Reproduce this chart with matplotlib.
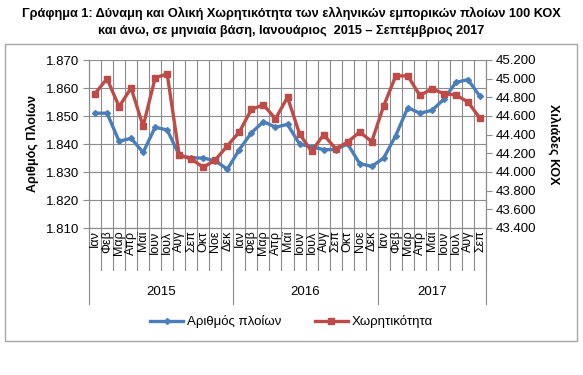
import matplotlib
matplotlib.use("Agg")
import matplotlib.pyplot as plt
from matplotlib.lines import Line2D
from matplotlib.patches import Rectangle
from matplotlib.ticker import FuncFormatter, MultipleLocator

plt.rcParams['font.family'] = ['Liberation Sans', 'DejaVu Sans']

# ---- data ----
MONTHS = ["Ιαν", "Φεβ", "Μαρ", "Απρ", "Μαϊ", "Ιουν", "Ιουλ", "Αυγ", "Σεπ", "Οκτ", "Νοε", "Δεκ"]
YEARS = ["2015", "2016", "2017"]
MONTHS_PER_YEAR = [12, 12, 9]

ships = [1851, 1851, 1841, 1842, 1837, 1846, 1845, 1836, 1835, 1835, 1834, 1831,
         1838, 1844, 1848, 1846, 1847, 1840, 1839, 1838, 1838, 1840, 1833, 1832,
         1835, 1843, 1853, 1851, 1852, 1856, 1862, 1863, 1857]
tonnage = [44840, 45000, 44700, 44900, 44490, 45010, 45050, 44180, 44140, 44050, 44130, 44280,
           44430, 44670, 44720, 44570, 44800, 44410, 44220, 44400, 44250, 44320, 44430, 44325,
           44710, 45030, 45030, 44820, 44890, 44840, 44825, 44750, 44575]

BLUE = "#4a7ebb"
RED = "#be4b48"
GRID = "#8c8c8c"

month_labels = []
for n in MONTHS_PER_YEAR:
    month_labels += MONTHS[:n]
x = list(range(len(month_labels)))


def greek_thousands(v, pos):
    return f"{v:,.0f}".replace(",", ".")


fig = plt.figure(figsize=(5.83, 3.75), dpi=100)
ax = fig.add_axes([89 / 583, 1 - 228 / 375, (486 - 89) / 583, (228 - 60) / 375])
ax2 = ax.twinx()

# frame round the chart
fig.patches.append(Rectangle((5 / 583, 1 - 341 / 375), 572 / 583, 297 / 375,
                             transform=fig.transFigure, fill=False,
                             edgecolor="#a6a6a6", linewidth=1.0))

fig.text(0.5, 1 - 13 / 375, "Γράφημα 1: Δύναμη και Ολική Χωρητικότητα των ελληνικών εμπορικών πλοίων 100 ΚΟΧ",
         ha="center", va="center", fontsize=9.2, fontweight="bold")
fig.text(0.5, 1 - 31 / 375, "και άνω, σε μηνιαία βάση, Ιανουάριος  2015 – Σεπτέμβριος 2017",
         ha="center", va="center", fontsize=9.2, fontweight="bold")

ax.plot(x, ships, color=BLUE, lw=2.4, marker="D", ms=3, zorder=3)
ax2.plot(x, tonnage, color=RED, lw=2.4, marker="s", ms=5, zorder=3)

ax.set_xlim(-0.5, len(x) - 0.5)
ax.set_ylim(1810, 1870)
ax2.set_ylim(43400, 45200)
ax.yaxis.set_major_locator(MultipleLocator(10))
ax2.yaxis.set_major_locator(MultipleLocator(200))
ax.yaxis.set_major_formatter(FuncFormatter(greek_thousands))
ax2.yaxis.set_major_formatter(FuncFormatter(greek_thousands))

# grid
for yv in range(1810, 1871, 10):
    ax.axhline(yv, color=GRID, lw=0.8, zorder=1)
for b in range(len(x) + 1):
    ax.axvline(b - 0.5, color=GRID, lw=0.8, zorder=1)

for a in (ax, ax2):
    for s in a.spines.values():
        s.set_color(GRID)
        s.set_linewidth(0.8)
    a.spines["top"].set_visible(False)
    a.tick_params(axis="y", length=4, color=GRID, labelsize=9.5, pad=3)
ax2.set_zorder(ax.get_zorder() + 1)
ax2.patch.set_visible(False)

ax.set_xticks([])
trans = ax.get_xaxis_transform()
for i, lab in enumerate(month_labels):
    ax.text(i, -0.015, lab, rotation=90, ha="center", va="top", fontsize=9, transform=trans)
for b in range(len(x) + 1):
    ax.plot([b - 0.5, b - 0.5], [0, -0.25], color=GRID, lw=0.8, transform=trans, clip_on=False)

start = 0
for yr, n in zip(YEARS, MONTHS_PER_YEAR):
    ax.text(start + n / 2 - 0.5, -0.38, yr, ha="center", va="center", fontsize=9.5, transform=trans)
    ax.plot([start - 0.5, start - 0.5], [0, -0.45], color=GRID, lw=0.8, transform=trans, clip_on=False)
    start += n
ax.plot([start - 0.5, start - 0.5], [0, -0.45], color=GRID, lw=0.8, transform=trans, clip_on=False)

ax.set_ylabel("Αριθμός Πλοίων", fontsize=9, fontweight="bold", labelpad=5)
ax2.set_ylabel("Χιλιάδες ΚΟΧ", fontsize=9, fontweight="bold", rotation=270, labelpad=17)

handles = [Line2D([], [], color=BLUE, lw=2.4, marker="D", ms=3),
           Line2D([], [], color=RED, lw=2.4, marker="s", ms=5)]
fig.legend(handles, ["Αριθμός πλοίων", "Χωρητικότητα"], loc="center",
           bbox_to_anchor=(0.5, 1 - 322 / 375), ncol=2, frameon=False,
           fontsize=9.5, handlelength=2.5, columnspacing=2.5, handletextpad=0.3)

fig.savefig("out.png", dpi=100)
